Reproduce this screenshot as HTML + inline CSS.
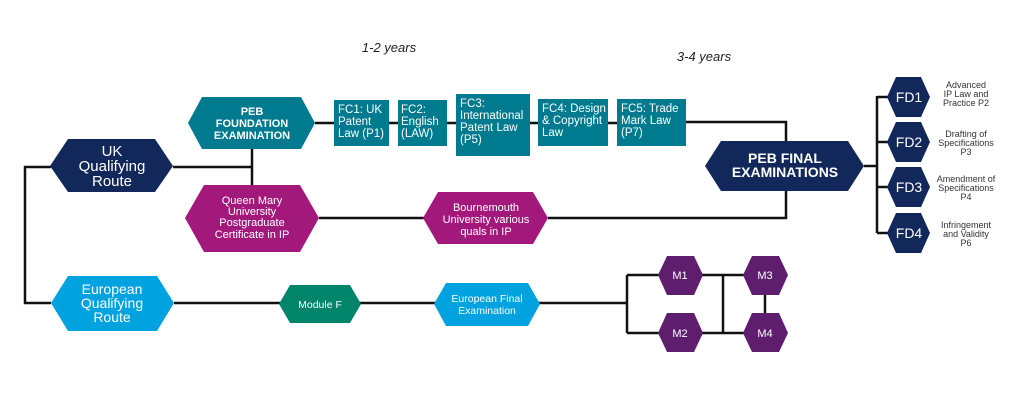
<!DOCTYPE html>
<html><head><meta charset="utf-8"><style>
html,body{margin:0;padding:0;background:#fff;width:1024px;height:410px;overflow:hidden}
svg{display:block}
text{font-family:"Liberation Sans",sans-serif;fill:#fff;text-anchor:middle}
</style></head><body>
<svg width="1024" height="410" viewBox="0 0 1024 410">
<g stroke="#111" stroke-width="2.5" fill="none">
<polyline points="51,167 25,167 25,303 51,303"/>
<line x1="173" y1="167" x2="252" y2="167"/>
<line x1="252" y1="149" x2="252" y2="186"/>
<line x1="315" y1="123" x2="686" y2="123"/>
<polyline points="686,122 786,122 786,142"/>
<polyline points="548,218 786,218 786,190"/>
<line x1="319" y1="218" x2="424" y2="218"/>
<line x1="864" y1="166" x2="877" y2="166"/>
<line x1="877" y1="96" x2="877" y2="233"/>
<line x1="877" y1="97" x2="888" y2="97"/>
<line x1="877" y1="142" x2="888" y2="142"/>
<line x1="877" y1="187" x2="888" y2="187"/>
<line x1="877" y1="233" x2="888" y2="233"/>
<line x1="174" y1="303" x2="627" y2="303"/>
<line x1="627" y1="275" x2="627" y2="333"/>
<line x1="627" y1="275" x2="744" y2="275"/>
<line x1="627" y1="333" x2="744" y2="333"/>
<line x1="723" y1="275" x2="723" y2="333"/>
<line x1="765" y1="275" x2="765" y2="333"/>
</g>
<text x="389" y="52" style="fill:#222;font-style:italic;font-size:13px">1-2 years</text>
<text x="704" y="61" style="fill:#222;font-style:italic;font-size:13px">3-4 years</text>

<!-- UK Qualifying -->
<polygon points="50,166 68,139 155,139 173,166 155,192 68,192" fill="#13285a"/>
<text font-size="15"><tspan x="112" y="156">UK</tspan><tspan x="112" y="171">Qualifying</tspan><tspan x="112" y="186">Route</tspan></text>

<!-- PEB Foundation -->
<polygon points="188,123 202,97 301,97 315,123 301,149 202,149" fill="#007a8f"/>
<text font-size="11" font-weight="bold"><tspan x="252" y="115">PEB</tspan><tspan x="252" y="127">FOUNDATION</tspan><tspan x="252" y="139">EXAMINATION</tspan></text>

<!-- FC boxes -->
<g fill="#007a8f">
<rect x="334" y="100" width="55" height="46"/>
<rect x="398" y="100" width="49" height="46"/>
<rect x="456" y="94" width="74" height="62"/>
<rect x="538" y="99" width="70" height="47"/>
<rect x="617" y="99" width="69" height="47"/>
</g>
<g font-size="11.5" style="text-anchor:start">
<text style="text-anchor:start"><tspan x="338" y="113">FC1: UK</tspan><tspan x="338" y="125">Patent</tspan><tspan x="338" y="137">Law (P1)</tspan></text>
<text style="text-anchor:start"><tspan x="401" y="113">FC2:</tspan><tspan x="401" y="125">English</tspan><tspan x="401" y="137">(LAW)</tspan></text>
<text style="text-anchor:start"><tspan x="460" y="107">FC3:</tspan><tspan x="460" y="119">International</tspan><tspan x="460" y="131">Patent Law</tspan><tspan x="460" y="143">(P5)</tspan></text>
<text style="text-anchor:start"><tspan x="542" y="112">FC4: Design</tspan><tspan x="542" y="124">&amp; Copyright</tspan><tspan x="542" y="136">Law</tspan></text>
<text style="text-anchor:start"><tspan x="621" y="112">FC5: Trade</tspan><tspan x="621" y="124">Mark Law</tspan><tspan x="621" y="136">(P7)</tspan></text>
</g>

<!-- QM -->
<polygon points="185,218 204,185 300,185 319,218 300,252 204,252" fill="#a3197b"/>
<text font-size="11"><tspan x="252" y="204">Queen Mary</tspan><tspan x="252" y="215">University</tspan><tspan x="252" y="226">Postgraduate</tspan><tspan x="252" y="238">Certificate in IP</tspan></text>

<!-- Bournemouth -->
<polygon points="423,218 438,192 533,192 548,218 533,244 438,244" fill="#a3197b"/>
<text font-size="11"><tspan x="486" y="211">Bournemouth</tspan><tspan x="486" y="223">University various</tspan><tspan x="486" y="235">quals in IP</tspan></text>

<!-- PEB Final -->
<polygon points="705,166 721,141 848,141 864,166 848,191 721,191" fill="#13285a"/>
<text font-size="14" font-weight="bold"><tspan x="785" y="163">PEB FINAL</tspan><tspan x="785" y="177">EXAMINATIONS</tspan></text>

<!-- FD -->
<g fill="#13285a">
<polygon points="887,97 896,77 921,77 930,97 921,117 896,117"/>
<polygon points="887,142 896,122 921,122 930,142 921,162 896,162"/>
<polygon points="887,187 896,167 921,167 930,187 921,207 896,207"/>
<polygon points="887,233 896,213 921,213 930,233 921,253 896,253"/>
</g>
<g font-size="14"><text x="909" y="102">FD1</text><text x="909" y="147">FD2</text><text x="909" y="192">FD3</text><text x="909" y="238">FD4</text></g>
<g font-size="9" style="fill:#333">
<text style="fill:#333"><tspan x="966" y="88">Advanced</tspan><tspan x="966" y="97">IP Law and</tspan><tspan x="966" y="106">Practice P2</tspan></text>
<text style="fill:#333"><tspan x="966" y="137">Drafting of</tspan><tspan x="966" y="146">Specifications</tspan><tspan x="966" y="155">P3</tspan></text>
<text style="fill:#333"><tspan x="966" y="182">Amendment of</tspan><tspan x="966" y="191">Specifications</tspan><tspan x="966" y="200">P4</tspan></text>
<text style="fill:#333"><tspan x="966" y="228">Infringement</tspan><tspan x="966" y="237">and Validity</tspan><tspan x="966" y="246">P6</tspan></text>
</g>

<!-- European -->
<polygon points="51,303 68,276 157,276 174,303 157,331 68,331" fill="#00a3e0"/>
<text font-size="14"><tspan x="112" y="294">European</tspan><tspan x="112" y="308">Qualifying</tspan><tspan x="112" y="322">Route</tspan></text>
<polygon points="279,304 290,285 350,285 361,304 350,323 290,323" fill="#00856a"/>
<text x="320" y="308" font-size="10.5">Module F</text>
<polygon points="434,304 446,283 528,283 540,304 528,326 446,326" fill="#00a3e0"/>
<text font-size="10.5"><tspan x="487" y="302">European Final</tspan><tspan x="487" y="314">Examination</tspan></text>

<g fill="#5f1d6e">
<polygon points="658,275 667,256 694,256 703,275 694,295 667,295"/>
<polygon points="658,333 667,313 694,313 703,333 694,352 667,352"/>
<polygon points="743,275 752,256 779,256 788,275 779,295 752,295"/>
<polygon points="743,333 752,313 779,313 788,333 779,352 752,352"/>
</g>
<g font-size="11"><text x="680" y="279">M1</text><text x="680" y="337">M2</text><text x="765" y="279">M3</text><text x="765" y="337">M4</text></g>
</svg>
</body></html>
